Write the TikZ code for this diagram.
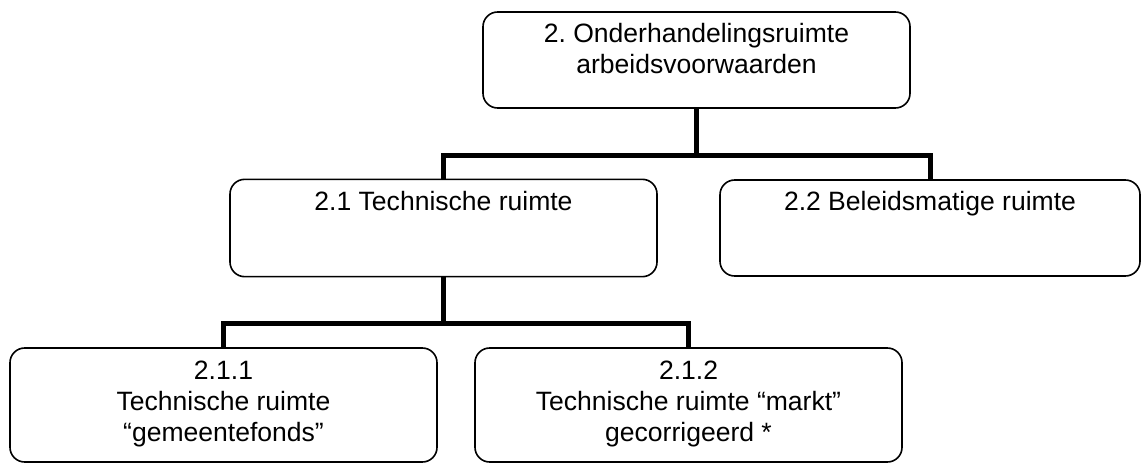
\documentclass[tikz,border=0pt]{standalone}
\usepackage{fontspec}
\setmainfont{Liberation Sans}
\frenchspacing
\begin{document}
\begin{tikzpicture}[x=0.75pt,y=-0.75pt,
  box/.style={draw=black,line width=1.2pt,rounded corners=11pt,minimum width=320.25pt,inner sep=0pt,fill=white},
  lbl/.style={anchor=north,align=center,inner sep=0pt,font=\fontsize{19.9pt}{23.2pt}\selectfont\frenchspacing},
  conn/.style={line width=3.75pt,line join=miter}]
\useasboundingbox (0,0) rectangle (1141,464);
% boxes
\node[box,minimum height=72pt] (top) at (696.5,60) {};
\node[box,minimum height=73pt] (b21) at (443.5,228) {};
\node[box,minimum height=72pt,minimum width=315pt] (b22) at (930,228) {};
\node[box,minimum height=85.5pt] (b211) at (223.5,405) {};
\node[box,minimum height=85.5pt] (b212) at (688.5,405) {};
% labels (north = first baseline minus about 19px)
\node[lbl] (ttop) at (696.5,23) {2. Onderhandelingsruimte\\arbeidsvoorwaarden};
\node[lbl] (t21) at (443.5,191) {2.1 Technische ruimte};
\node[lbl] (t22) at (930,191) {2.2 Beleidsmatige ruimte};
\node[lbl] (t211) at (223.5,361) {2.1.1\\Technische ruimte\\“gemeentefonds”};
\node[lbl] (t212) at (688.5,361) {2.1.2\\Technische ruimte “markt”\\gecorrigeerd *};
% connectors
\coordinate (bus1) at (696.5,155);
\coordinate (bus2) at (443.5,323);
\draw[conn] (top.south) -- (top.south |- bus1);
\draw[conn] (b21.north) |- (bus1) -| (b22.north);
\draw[conn] (b21.south) -- (b21.south |- bus2);
\draw[conn] (b211.north) |- (bus2) -| (b212.north);
\end{tikzpicture}
\end{document}
